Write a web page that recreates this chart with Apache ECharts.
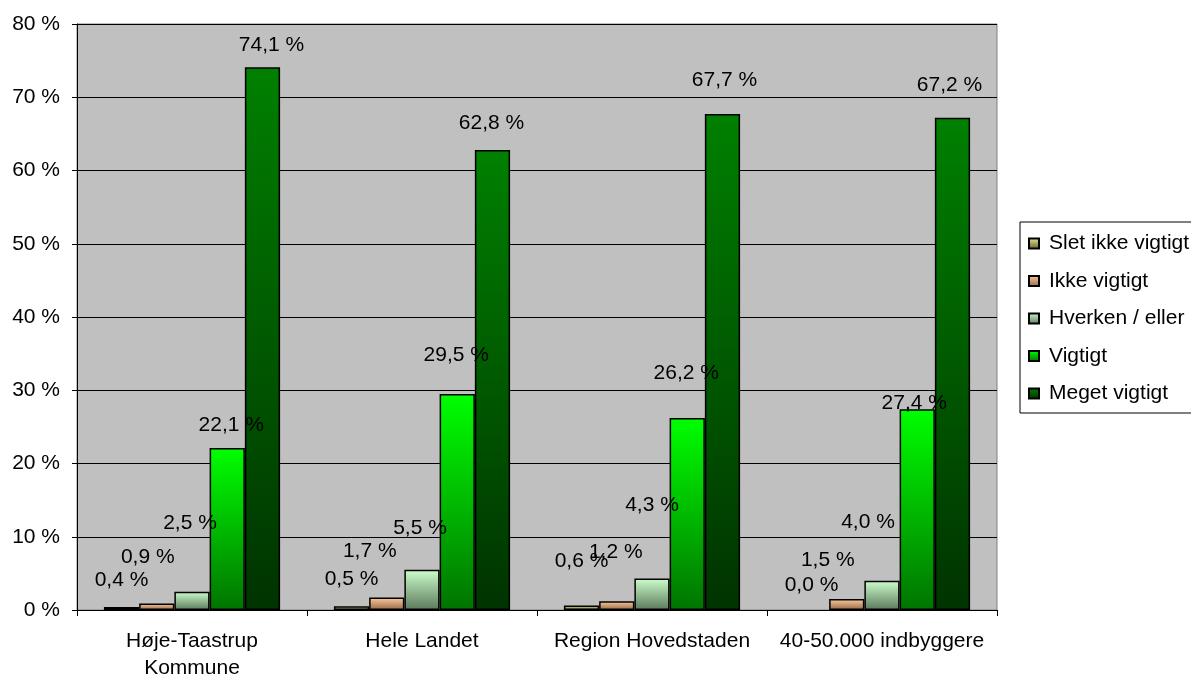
<!DOCTYPE html>
<html>
<head>
<meta charset="utf-8">
<script src="https://cdn.jsdelivr.net/npm/echarts@6/dist/echarts.min.js"></script>
<style>
html,body{margin:0;padding:0;background:#fff;}
#c{width:1191px;height:680px;}
</style>
</head>
<body>
<div id="c"></div>
<script>
// ---- data ----
const categories = ['Høje-Taastrup\nKommune', 'Hele Landet', 'Region Hovedstaden', '40-50.000 indbyggere'];
const seriesNames = ['Slet ikke vigtigt', 'Ikke vigtigt', 'Hverken / eller', 'Vigtigt', 'Meget vigtigt'];
const sletIkkeVigtigt = [0.4, 0.5, 0.6, 0.0];
const ikkeVigtigt = [0.9, 1.7, 1.2, 1.5];
const hverkenEller = [2.5, 5.5, 4.3, 4.0];
const vigtigt = [22.1, 29.5, 26.2, 27.4];
const megetVigtigt = [74.1, 62.8, 67.7, 67.2];
const yTicks = [0, 10, 20, 30, 40, 50, 60, 70, 80];

// ---- styling (label nudges as in the original) ----
const labelDx = [[0,0,0,0],[-9,-17,-1,-19],[-2,-2,0,-14],[4,-1,-1,-3],[9,-1,2,-3]];
const labelDy = [[-27,-27,-44,-25],[-46,-46,-49,-39],[-68,-42,-73,-58],[-23,-39,-45,-6],[-22,-27,-34,-33]];
const gradients = [
  ['#ecec98', '#5c5c2c'],
  ['#ffcc99', '#94684a'],
  ['#ccffcc', '#5c785c'],
  ['#00ff00', '#007400'],
  ['#008000', '#003300']
];
const FONT = "'Liberation Sans', Arial, sans-serif";
const FS = 21;

const allValues = [sletIkkeVigtigt, ikkeVigtigt, hverkenEller, vigtigt, megetVigtigt];

function grad(c) {
  return new echarts.graphic.LinearGradient(0, 0, 0, 1, [
    {offset: 0, color: c[0]}, {offset: 1, color: c[1]}
  ]);
}
function fmt(v) { return v.toFixed(1).replace('.', ',') + ' %'; }

const series = seriesNames.map((name, si) => ({
  name: name,
  type: 'bar',
  barGap: '0%',
  barCategoryGap: '23.4%',
  itemStyle: {color: grad(gradients[si]), borderColor: '#000', borderWidth: 1.5},
  label: {
    show: true, position: 'top', distance: 0,
    fontFamily: FONT, fontSize: FS, lineHeight: 21, color: '#000',
    formatter: p => fmt(p.value)
  },
  data: allValues[si].map((v, ci) => ({
    value: v,
    itemStyle: v === 0 ? {borderWidth: 0} : undefined,
    label: {offset: [labelDx[si][ci], labelDy[si][ci] + 10.5]}
  }))
}));

const chart = echarts.init(document.getElementById('c'));
chart.setOption({
  animation: false,
  backgroundColor: '#fff',
  grid: {left: 77, right: 194, top: 24, bottom: 70, show: true, containLabel: false,
         outerBoundsMode: 'none',
         backgroundColor: '#c0c0c0', borderColor: '#808080', borderWidth: 1},
  legend: {
    orient: 'vertical', left: 1020, top: 222,
    icon: 'rect',
    itemWidth: 10, itemHeight: 10, itemGap: 16.5,
    padding: [11, 12, 9, 8],
    borderColor: '#000', borderWidth: 1, backgroundColor: '#fff',
    textStyle: {fontFamily: FONT, fontSize: FS, lineHeight: 21, color: '#000', padding: [0,0,0,5]},
    data: seriesNames
  },
  xAxis: {
    type: 'category', data: categories,
    axisLine: {lineStyle: {color: '#000', width: 1}},
    axisTick: {show: true, length: 6, lineStyle: {color: '#000'}},
    axisLabel: {fontFamily: FONT, fontSize: FS, lineHeight: 27, color: '#000', margin: 18, interval: 0}
  },
  yAxis: {
    type: 'value', min: yTicks[0], max: yTicks[yTicks.length - 1], interval: yTicks[1] - yTicks[0],
    axisLine: {show: true, lineStyle: {color: '#000', width: 1}},
    axisTick: {show: true, length: 5, lineStyle: {color: '#000'}},
    splitLine: {show: true, lineStyle: {color: '#000', width: 1}},
    axisLabel: {fontFamily: FONT, fontSize: FS, color: '#000', margin: 17, formatter: '{value} %'}
  },
  series: series
});
</script>
</body>
</html>
